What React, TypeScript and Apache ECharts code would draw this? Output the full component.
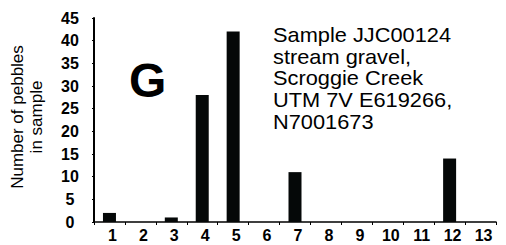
import React, { useEffect, useRef } from "react";
import * as echarts from "echarts";

const categories = ["1", "2", "3", "4", "5", "6", "7", "8", "9", "10", "11", "12", "13"];
const pebbleCounts = [2, 0, 1, 28, 42, 0, 11, 0, 0, 0, 0, 14, 0];
const yTicks = { min: 0, max: 45, interval: 5 };
const panelLetter = "G";
const sampleNote = [
  "Sample JJC00124",
  "stream gravel,",
  "Scroggie Creek",
  "UTM 7V E619266,",
  "N7001673",
];
const yAxisTitle = "Number of pebbles\nin sample";

export default function App() {
  const ref = useRef<HTMLDivElement>(null);
  useEffect(() => {
    if (!ref.current) return;
    const chart = echarts.init(ref.current, undefined, { renderer: "svg" });
    chart.setOption({
      animation: false,
      backgroundColor: "#ffffff",
      grid: { left: 91, right: 10, top: 18, bottom: 23 },
      xAxis: {
        type: "category",
        data: categories,
        boundaryGap: true,
        axisLine: { lineStyle: { color: "#000", width: 1.5 } },
        axisTick: { show: true, length: 3, lineStyle: { color: "#000", width: 1 } },
        axisLabel: {
          color: "#000",
          fontFamily: "Liberation Sans",
          fontWeight: "bold",
          fontSize: 16,
          margin: 5,
          padding: [0, 0, 0, 6],
        },
      },
      yAxis: {
        type: "value",
        min: yTicks.min,
        max: yTicks.max,
        interval: yTicks.interval,
        splitLine: { show: false },
        axisLine: { show: true, lineStyle: { color: "#000", width: 2 } },
        axisTick: { show: true, length: 2, lineStyle: { color: "#000", width: 1 } },
        axisLabel: {
          color: "#000",
          fontFamily: "Liberation Sans",
          fontWeight: "bold",
          fontSize: 16,
          align: "center",
          margin: 24,
          padding: [0, 0, 7, 0],
        },
        name: yAxisTitle,
        nameLocation: "middle",
        nameGap: 48,
        nameRotate: 90,
        nameTextStyle: {
          color: "#000",
          fontFamily: "Liberation Sans",
          fontSize: 17,
          lineHeight: 19,
          align: "center",
          padding: [0, 0, 0, 6],
        },
      },
      series: [
        {
          type: "bar",
          data: pebbleCounts,
          barWidth: 13,
          itemStyle: { color: "#050808" },
        },
      ],
      graphic: [
        {
          type: "text",
          left: 129,
          top: 56,
          style: {
            text: panelLetter,
            font: "bold 48px 'Liberation Sans'",
            fill: "#000",
          },
        },
        {
          type: "text",
          x: 273,
          y: 24,
          scaleX: 1.09,
          style: {
            text: sampleNote.join("\n"),
            font: "20px 'Liberation Sans'",
            lineHeight: 21.7,
            fill: "#000",
          },
        },
      ],
    });
    return () => chart.dispose();
  }, []);
  return (
    <div
      ref={ref}
      style={{ position: "absolute", left: 0, top: 0, width: 506, height: 245 }}
    />
  );
}
